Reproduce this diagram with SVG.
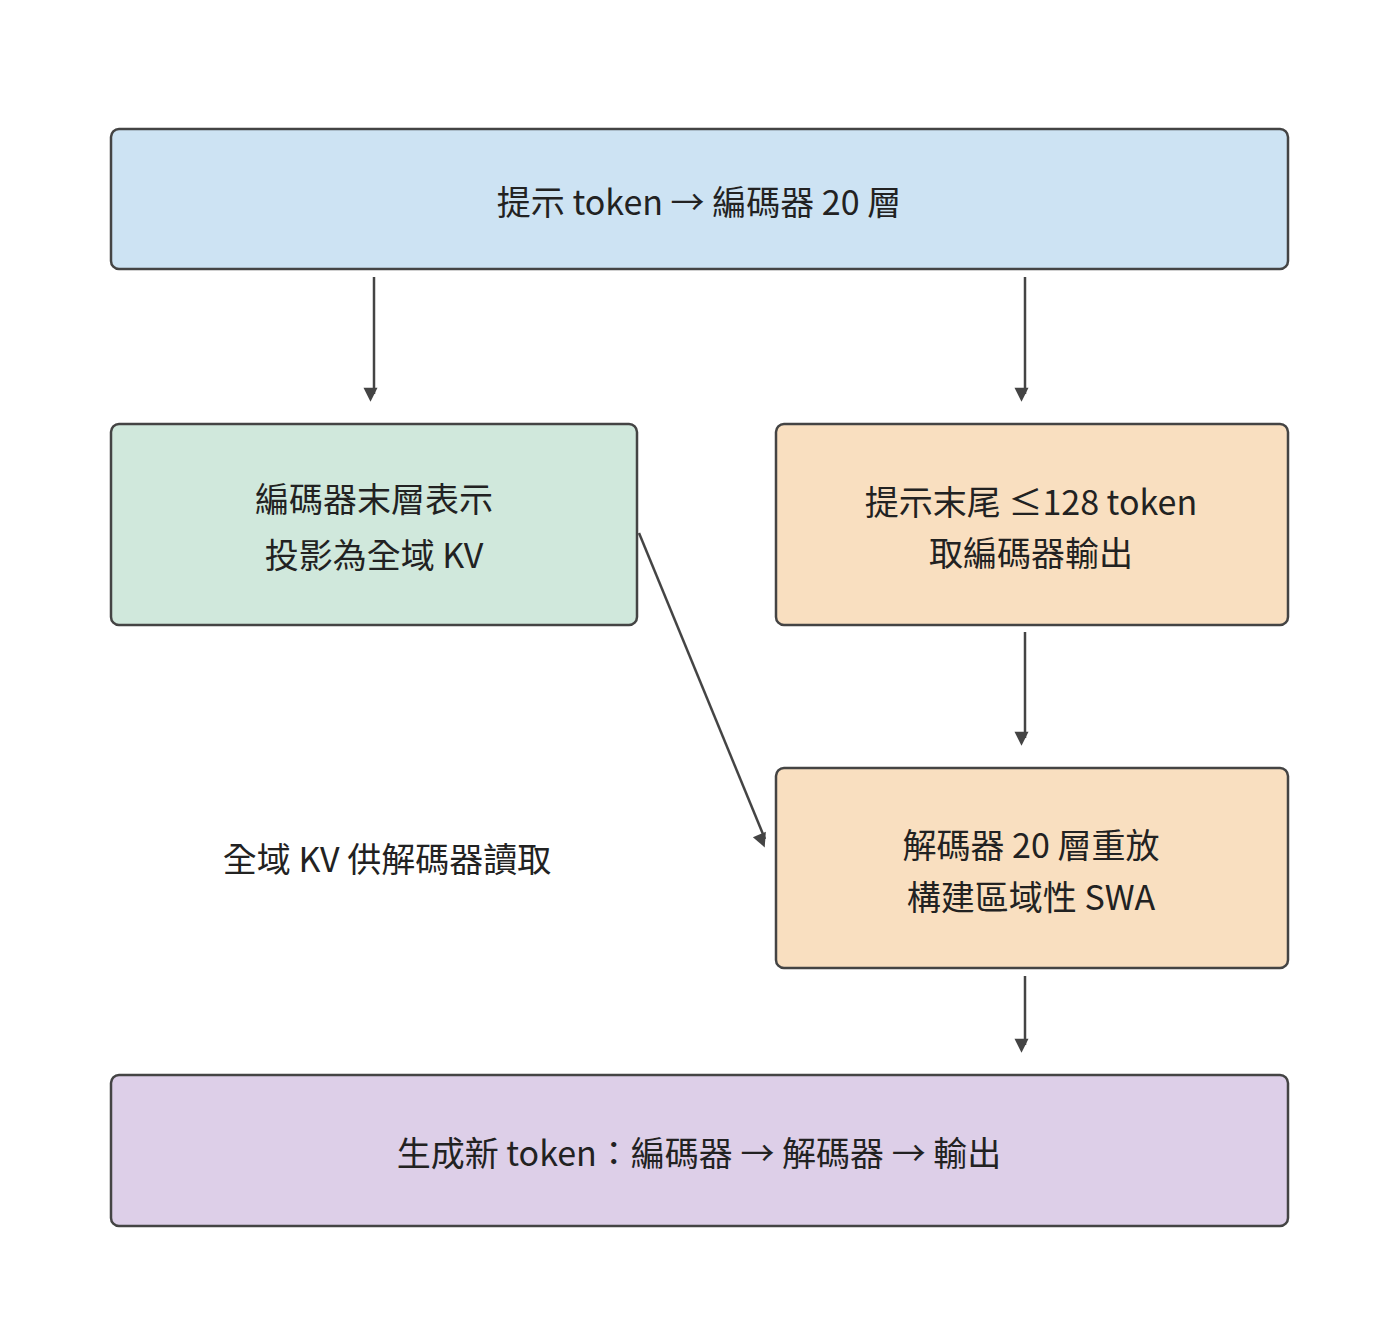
<svg xmlns="http://www.w3.org/2000/svg" width="1400" height="1320" viewBox="0 0 1400 1320">
<defs>
<style>
.n{stroke:#444;stroke-width:2.5}
text{font-family:"Noto Sans CJK TC","Noto Sans",sans-serif;font-size:34px;fill:#222;text-anchor:middle;dominant-baseline:central}
.c{stroke:#444;stroke-width:2.5;fill:none;marker-end:url(#a)}
</style>
<marker id="a" viewBox="0 0 10 10" refX="9" refY="5" markerWidth="7" markerHeight="7" orient="auto" markerUnits="userSpaceOnUse" style="overflow:visible"><path d="M0,0L10,5L0,10z" fill="#444" transform="scale(2)"/></marker>
</defs>
<rect width="1400" height="1320" fill="#fff"/>
<g id="connectors">
<line class="c" x1="374" y1="277" x2="374" y2="394"/>
<line class="c" x1="1025" y1="277" x2="1025" y2="394"/>
<line class="c" x1="1025" y1="632" x2="1025" y2="738"/>
<line class="c" x1="1025" y1="976" x2="1025" y2="1045"/>
<line class="c" x1="639" y1="533" x2="765" y2="839"/>
<text x="387" y="857">全域 KV 供解碼器讀取</text>
</g>
<g id="n1"><rect class="n" x="111" y="129" width="1177" height="140" rx="8" fill="#cde3f3"/><text x="699" y="200">提示 token → 編碼器 20 層</text></g>
<g id="n2"><rect class="n" x="111" y="424" width="526" height="201" rx="8" fill="#d0e8dc"/><text x="374" y="497">編碼器末層表示</text><text x="374" y="553">投影為全域 KV</text></g>
<g id="n3"><rect class="n" x="776" y="424" width="512" height="201" rx="8" fill="#f9dfc0"/><text x="1031" y="500">提示末尾 ≤128 token</text><text x="1031" y="551">取編碼器輸出</text></g>
<g id="n4"><rect class="n" x="776" y="768" width="512" height="200" rx="8" fill="#f9dfc0"/><text x="1031" y="843">解碼器 20 層重放</text><text x="1031" y="895">構建區域性 SWA</text></g>
<g id="n5"><rect class="n" x="111" y="1075" width="1177" height="151" rx="8" fill="#ddcfe8"/><text x="699" y="1151">生成新 token：編碼器 → 解碼器 → 輸出</text></g>
</svg>
